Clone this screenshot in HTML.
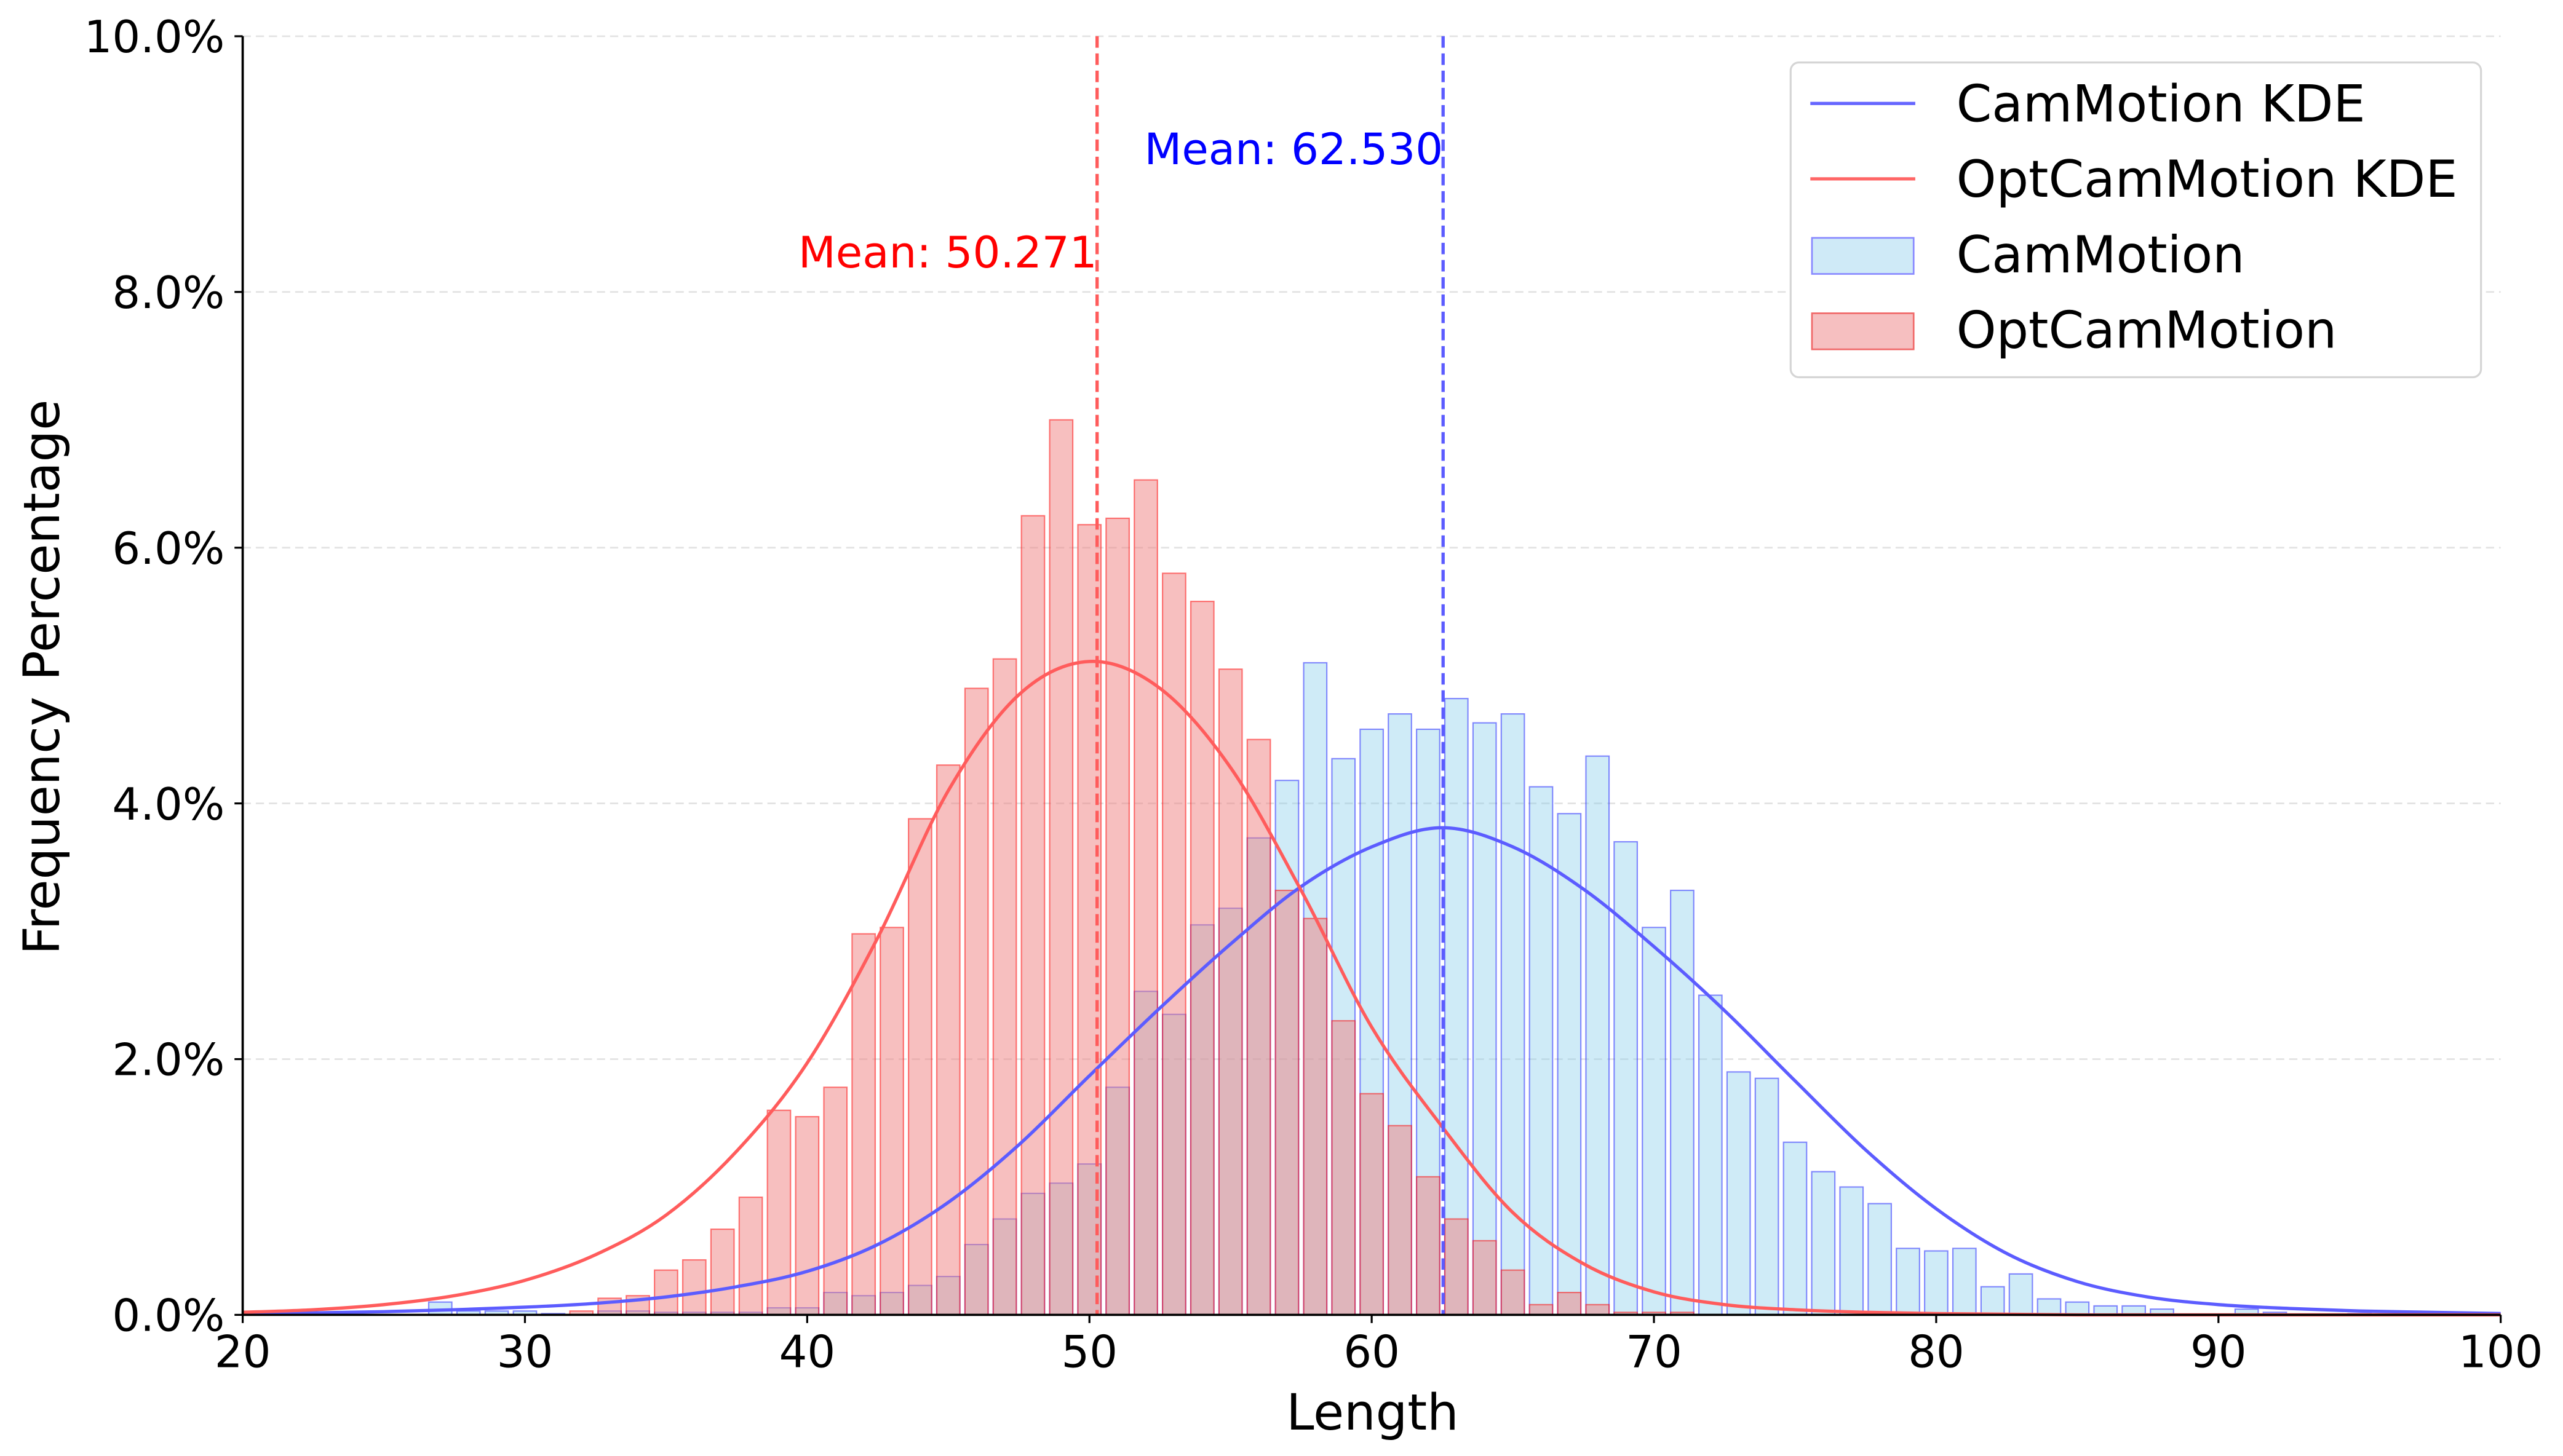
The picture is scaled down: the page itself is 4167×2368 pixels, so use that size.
<!DOCTYPE html>
<html><head><meta charset="utf-8"><style>
html,body{margin:0;padding:0;background:#fff;}
svg{display:block;font-family:"DejaVu Sans","Liberation Sans",sans-serif;}
</style></head><body>
<svg id="chart" width="4167" height="2368" viewBox="0 0 1563 888" xmlns="http://www.w3.org/2000/svg">
<g id="grid"></g>
<g id="bars"></g>
<g id="curves"></g>
<g id="axes"></g>
<text x="837" y="872" font-size="30.5" text-anchor="middle">Length</text>
<text transform="translate(36,413) rotate(-90)" font-size="30.5" text-anchor="middle">Frequency Percentage</text>
<g>
<rect x="1092" y="38" width="421" height="192" rx="5" fill="#fff" stroke="#d5d5d5" stroke-width="1.2"/>
<line x1="1104" y1="63" x2="1168" y2="63" stroke="#6666ff" stroke-width="2"/>
<text x="1193" y="74" font-size="31">CamMotion KDE</text>
<line x1="1104" y1="109" x2="1168" y2="109" stroke="#ff6666" stroke-width="2"/>
<text x="1193" y="120" font-size="31">OptCamMotion KDE</text>
<rect x="1105" y="145" width="62" height="22" fill="#cfeaf7" stroke="#8888ff" stroke-width="1"/>
<text x="1193" y="166" font-size="31">CamMotion</text>
<rect x="1105" y="191" width="62" height="22" fill="#f6bfc0" stroke="#f06868" stroke-width="1"/>
<text x="1193" y="212" font-size="31">OptCamMotion</text>
</g>
</svg>
<script>
const NS="http://www.w3.org/2000/svg";
const camCats=[27,28,29,30,31,33,34,35,36,37,38,39,40,41,42,43,44,45,46,47,48,49,50,51,52,53,54,55,56,57,58,59,60,61,62,63,64,65,66,67,68,69,70,71,72,73,74,75,76,77,78,79,80,81,82,83,84,85,86,87,88,91,92,95];
const camVals=[0.10,0.03,0.03,0.03,0.01,0.03,0.03,0.02,0.02,0.02,0.02,0.055,0.055,0.175,0.15,0.175,0.23,0.30,0.55,0.75,0.95,1.03,1.18,1.78,2.53,2.35,3.05,3.18,3.73,4.18,5.10,4.35,4.58,4.70,4.58,4.82,4.63,4.70,4.13,3.92,4.37,3.70,3.03,3.32,2.50,1.90,1.85,1.35,1.12,1.00,0.87,0.52,0.50,0.52,0.22,0.32,0.125,0.10,0.07,0.07,0.045,0.045,0.02,0.01];
const optCats=[32,33,34,35,36,37,38,39,40,41,42,43,44,45,46,47,48,49,50,51,52,53,54,55,56,57,58,59,60,61,62,63,64,65,66,67,68,69,70,71];
const optVals=[0.03,0.13,0.15,0.35,0.43,0.67,0.92,1.60,1.55,1.78,2.98,3.03,3.88,4.30,4.90,5.13,6.25,7.00,6.18,6.23,6.53,5.80,5.58,5.05,4.50,3.32,3.10,2.30,1.73,1.48,1.08,0.75,0.58,0.35,0.08,0.175,0.08,0.02,0.02,0.02];
const kdeX=[20,22.5,25,27.5,30,32.5,35,37.5,40,42.5,45,47.5,50,52.5,55,57.5,60,62.5,65,67.5,70,72.5,75,77.5,80,82.5,85,87.5,90,92.5,95,97.5,100];
const camKdeY=[0.01,0.015,0.025,0.04,0.06,0.09,0.14,0.22,0.34,0.55,0.88,1.33,1.87,2.40,2.90,3.35,3.66,3.81,3.66,3.33,2.88,2.38,1.83,1.29,0.83,0.48,0.26,0.14,0.08,0.05,0.03,0.02,0.01];
const optKdeY=[0.02,0.04,0.08,0.15,0.27,0.47,0.78,1.28,1.97,2.95,4.10,4.85,5.11,4.90,4.28,3.32,2.25,1.47,0.80,0.40,0.18,0.08,0.04,0.02,0.01,0.005,0,0,0,0,0,0,0];
const means=[62.530,50.271];
const meanLabels=["Mean: 62.530","Mean: 50.271"];
const xTicks=[20,30,40,50,60,70,80,90,100];
const yTicks=[0,2,4,6,8,10];

const X0=148,X1=1525,Y0=802,Y1=22;
const xs=v=>X0+(v-20)/80*(X1-X0);
const ys=v=>Y0-v/10*(Y0-Y1);
const bw=(xs(1)-xs(0))*0.82;
function mk(tag,attrs,parent){const e=document.createElementNS(NS,tag);for(const k in attrs)e.setAttribute(k,attrs[k]);parent.appendChild(e);return e;}

const grid=document.getElementById('grid');
yTicks.forEach(t=>{if(t===0)return;
 const l=mk('line',{x1:X0,x2:X1,y1:ys(t),y2:ys(t),stroke:'#e2e2e2','stroke-width':1,'stroke-dasharray':'5,3'},grid);
 
 
});

const bars=document.getElementById('bars');
camCats.forEach((c,i)=>{
 const r=mk('rect',{x:xs(c)-bw/2,y:ys(camVals[i]),width:bw,height:Y0-ys(camVals[i]),fill:'#87ceeb','fill-opacity':0.4,stroke:'#0000ff','stroke-opacity':0.45,'stroke-width':0.8},bars);
 
 
});
optCats.forEach((c,i)=>{
 const r=mk('rect',{x:xs(c)-bw/2,y:ys(optVals[i]),width:bw,height:Y0-ys(optVals[i]),fill:'#f08080','fill-opacity':0.5,stroke:'#ff0000','stroke-opacity':0.5,'stroke-width':0.8},bars);
 
 
});

function smooth(xa,ya){
 const p=xa.map((x,i)=>[xs(x),ys(ya[i])]);
 let d='M'+p[0][0]+','+p[0][1];
 for(let i=0;i<p.length-1;i++){
  const p0=p[Math.max(0,i-1)],p1=p[i],p2=p[i+1],p3=p[Math.min(p.length-1,i+2)];
  const c1=[p1[0]+(p2[0]-p0[0])/6,p1[1]+(p2[1]-p0[1])/6];
  const c2=[p2[0]-(p3[0]-p1[0])/6,p2[1]-(p3[1]-p1[1])/6];
  d+=' C'+c1[0]+','+c1[1]+' '+c2[0]+','+c2[1]+' '+p2[0]+','+p2[1];
 }
 return d;
}
const curves=document.getElementById('curves');
const cc=mk('path',{d:smooth(kdeX,camKdeY),fill:'none',stroke:'#5c5cff','stroke-width':2},curves);


const oc=mk('path',{d:smooth(kdeX,optKdeY),fill:'none',stroke:'#ff5c5c','stroke-width':2},curves);



const meanColors=['#5c5cff','#ff5c5c'];const textColors=['#0000ff','#ff0000'];const textY=[100,163];
means.forEach((m,i)=>{
 const l=mk('line',{x1:xs(m),x2:xs(m),y1:Y1,y2:Y0,stroke:meanColors[i],'stroke-width':2,'stroke-dasharray':'7,3.5'},curves);
 
 
 const t=mk('text',{x:xs(m),y:textY[i],'font-size':26.5,'text-anchor':'end',fill:textColors[i]},curves);
 t.textContent=meanLabels[i];
 
 
});

const axes=document.getElementById('axes');
const ls=mk('line',{x1:X0,x2:X0,y1:Y1,y2:Y0+0.6,stroke:'#000','stroke-width':1.4},axes);


const bs=mk('line',{x1:X0-0.6,x2:X1,y1:Y0,y2:Y0,stroke:'#000','stroke-width':1.4},axes);


xTicks.forEach(t=>{
 const tk=mk('line',{x1:xs(t),x2:xs(t),y1:Y0,y2:Y0+5,stroke:'#000','stroke-width':1.2},axes);
 
 
 const tx=mk('text',{x:xs(t),y:Y0+32,'font-size':27,'text-anchor':'middle'},axes);
 tx.textContent=String(t);
 
 
});
yTicks.forEach(t=>{
 const tk=mk('line',{x1:X0-5,x2:X0,y1:ys(t),y2:ys(t),stroke:'#000','stroke-width':1.2},axes);
 
 
 const tx=mk('text',{x:X0-11,y:ys(t)+9.8,'font-size':27,'text-anchor':'end'},axes);
 tx.textContent=t.toFixed(1)+'%';
 
 
});
</script>
</body></html>
